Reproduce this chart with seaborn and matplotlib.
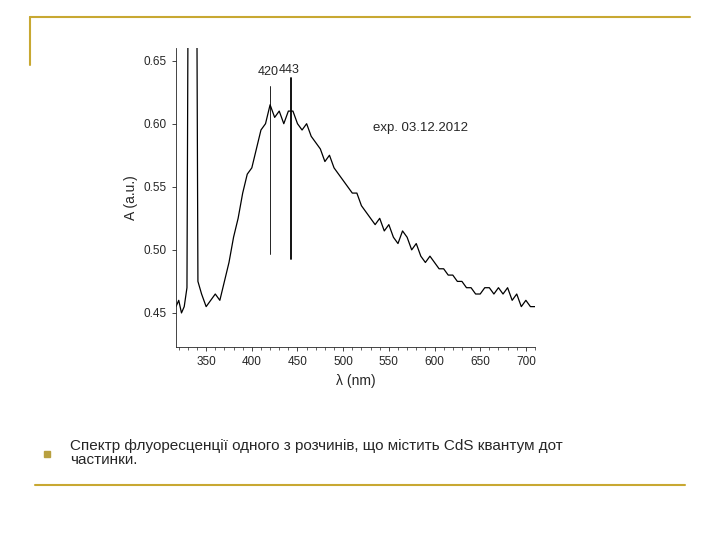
import matplotlib
matplotlib.use("Agg")
import matplotlib.pyplot as plt
from matplotlib.ticker import MultipleLocator
import seaborn as sns

wl_a = [317, 320, 323, 326, 329, 330]
ab_a = [0.455, 0.46, 0.45, 0.455, 0.47, 0.66]
wl_b = [340, 341, 345, 350, 355, 360, 365, 370, 375, 380, 385, 390, 395, 400, 405, 410, 415, 420,
        425, 430, 435, 440, 445, 450, 455, 460, 465, 470, 475, 480, 485, 490, 495, 500, 505, 510,
        515, 520, 525, 530, 535, 540, 545, 550, 555, 560, 565, 570, 575, 580, 585, 590, 595, 600,
        605, 610, 615, 620, 625, 630, 635, 640, 645, 650, 655, 660, 665, 670, 675, 680, 685, 690,
        695, 700, 705, 710]
ab_b = [0.66, 0.475, 0.465, 0.455, 0.46, 0.465, 0.46, 0.475, 0.49, 0.51, 0.525, 0.545, 0.56, 0.565,
        0.58, 0.595, 0.60, 0.615, 0.605, 0.61, 0.60, 0.61, 0.61, 0.60, 0.595, 0.60, 0.59, 0.585,
        0.58, 0.57, 0.575, 0.565, 0.56, 0.555, 0.55, 0.545, 0.545, 0.535, 0.53, 0.525, 0.52, 0.525,
        0.515, 0.52, 0.51, 0.505, 0.515, 0.51, 0.50, 0.505, 0.495, 0.49, 0.495, 0.49, 0.485, 0.485,
        0.48, 0.48, 0.475, 0.475, 0.47, 0.47, 0.465, 0.465, 0.47, 0.47, 0.465, 0.47, 0.465, 0.47,
        0.46, 0.465, 0.455, 0.46, 0.455, 0.455]
peaks = [420, 443]
peak_lo = [0.497, 0.493]
peak_hi = [0.63, 0.636]
x_ticks = [350, 400, 450, 500, 550, 600, 650, 700]
y_ticks = [0.45, 0.50, 0.55, 0.60, 0.65]

sns.set_style("ticks")
plt.rcParams['font.family'] = ['Liberation Sans', 'DejaVu Sans']

fig = plt.figure(figsize=(7.2, 5.4), dpi=100)
gold = "#c8a832"
fig.add_artist(plt.Line2D([30/720, 690/720], [1-17/540, 1-17/540], color=gold, lw=1.5))
fig.add_artist(plt.Line2D([30/720, 30/720], [1-17/540, 1-65/540], color=gold, lw=1.5))
fig.add_artist(plt.Line2D([35/720, 685/720], [1-485/540, 1-485/540], color=gold, lw=1.5))
fig.add_artist(plt.Rectangle((44/720, 1-457/540), 6/720, 6/540, color="#b8a040"))
fig.text(70/720, 1-453/540, "Спектр флуоресценції одного з розчинів, що містить CdS квантум дот\nчастинки.",
         fontsize=11, va="center", ha="left", linespacing=1.0)

ax = fig.add_axes([176/720, 1-347/540, 359/720, 299/540])
sns.lineplot(x=wl_a, y=ab_a, ax=ax, color="black", lw=0.9)
sns.lineplot(x=wl_b, y=ab_b, ax=ax, color="black", lw=0.9)
for p, lo, hi, w in zip(peaks, peak_lo, peak_hi, [0.6, 1.3]):
    ax.plot([p, p], [lo, hi], color="black", lw=w)
for p, ty in zip(peaks, [0.636, 0.638]):
    ax.text(p - 2, ty, str(p), ha="center", va="bottom", fontsize=9)
ax.text(585, 0.594, "exp. 03.12.2012", fontsize=9.5, ha="center")
ax.set_xlim(317, 710)
ax.set_ylim(0.423, 0.66)
ax.set_xticks(x_ticks)
ax.set_yticks(y_ticks)
ax.set_yticklabels([f"{v:.2f}" for v in y_ticks])
ax.xaxis.set_minor_locator(MultipleLocator(10))
ax.tick_params(labelsize=8.5, length=3, width=0.6)
ax.tick_params(which="minor", length=2, width=0.5)
ax.set_xlabel("λ (nm)", fontsize=10)
ax.set_ylabel("A (a.u.)", fontsize=10)
for s in ["top", "right"]:
    ax.spines[s].set_visible(False)
for s in ["left", "bottom"]:
    ax.spines[s].set_linewidth(0.6)
fig.savefig("out.png", dpi=100)
